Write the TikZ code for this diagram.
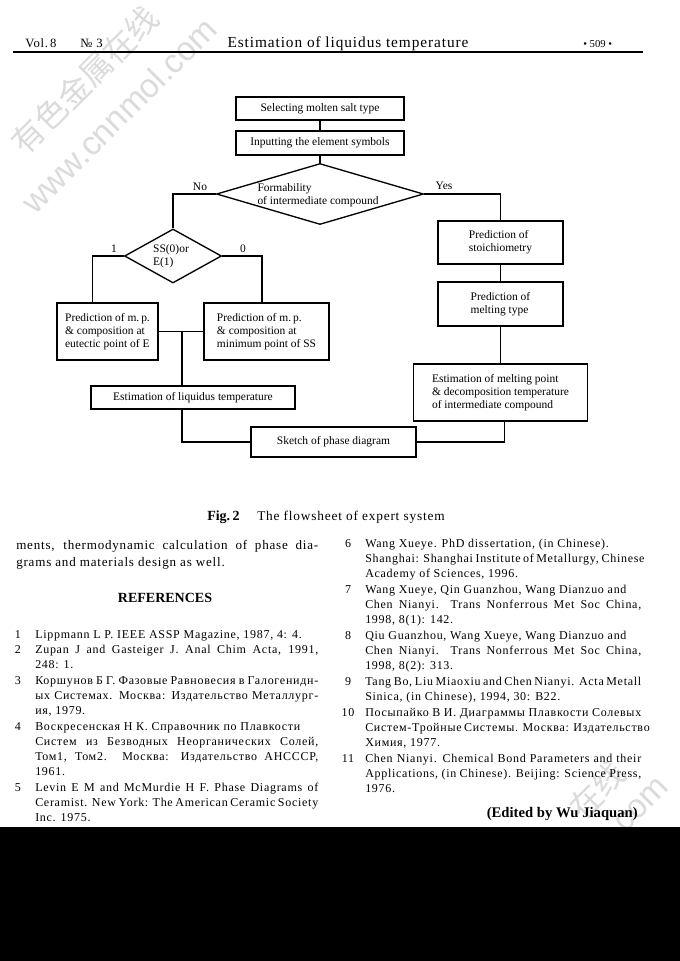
\documentclass[tikz,border=0pt]{standalone}
\usepackage{fontspec}
\setmainfont{Liberation Serif}
\newfontfamily\tracked[LetterSpace=6]{Liberation Serif}
\newfontfamily\marksans{Liberation Sans}
\newfontfamily\markcjk{Noto Sans CJK SC}
\usetikzlibrary{shapes.geometric}
\newcommand\flowfont{\fontsize{8.6}{9.8}\selectfont}
\newcommand\reffont{\tracked\fontsize{9}{11}\selectfont}
\newcommand\bodyfont{\tracked\fontsize{9.8}{12}\selectfont}
\newcommand\fullL[1]{\makebox[212.25pt][s]{#1}}
\newcommand\fullR[1]{\makebox[207pt][s]{#1}}
\newcommand\fullB[1]{\makebox[226.5pt][s]{#1}}
\begin{document}
\begin{tikzpicture}[x=0.75pt,y=-0.75pt,
  box/.style={draw,line width=1pt,inner sep=0pt,align=left,font=\flowfont},
  decide/.style={draw,diamond,line width=1pt,inner sep=0pt},
  flowtxt/.style={inner sep=0pt,align=left,font=\flowfont},
  lab/.style={inner sep=1pt,font=\flowfont},
  link/.style={line width=0.8pt},
  txt/.style={anchor=base west,inner sep=0pt,font=\reffont},
  num/.style={anchor=base,inner sep=0pt,font=\reffont},
  watermark/.style={inner sep=0pt,rotate=45,text=markgray}]
\definecolor{markgray}{gray}{0.86}
\useasboundingbox (0,0) rectangle (680,961);
\fill[white] (0,0) rectangle (680,961);
% watermark
\node[watermark,font=\markcjk\fontsize{24}{24}\selectfont] (wm1) at (85,80) {有色金属在线};
\node[watermark,font=\marksans\fontsize{25}{25}\selectfont] (wm2) at (119,115) {www.cnnmol.com};
\node[watermark,font=\markcjk\fontsize{24}{24}\selectfont] (wm3) at (597,790) {在线};
\node[watermark,font=\marksans\fontsize{25}{25}\selectfont] (wm4) at (642,805) {com};
% running head
\node[anchor=base west,inner sep=0pt,font=\tracked\fontsize{9.5}{11}\selectfont] (vol) at (25,47) {Vol.\,8};
\node[anchor=base west,inner sep=0pt,font=\tracked\fontsize{9.5}{11}\selectfont] (issue) at (80,47) {№ 3};
\node[anchor=base,inner sep=0pt,font=\tracked\fontsize{11.5}{13}\selectfont] (head) at (348,47) {Estimation of liquidus temperature};
\node[anchor=base west,inner sep=0pt,font=\fontsize{8}{9}\selectfont] (page) at (583,47) {•\ 509\ •};
\draw[line width=1.1pt] (13,52) -- (643,52);
% flowsheet
\node[box,minimum width=126pt,minimum height=17.25pt] (sel) at (320,108.5) {Selecting molten salt type};
\node[box,minimum width=126pt,minimum height=18pt] (inp) at (320,143) {Inputting the element symbols};
\node[decide,minimum width=155.25pt,minimum height=45.75pt] (form) at (320,194) {};
\node[flowtxt] (formtxt) at (318,195) {Formability\\of intermediate compound};
\node[decide,minimum width=72.75pt,minimum height=40.5pt] (ss) at (173,256) {};
\node[flowtxt] (sstxt) at (171,256) {SS(0)or\\E(1)};
\node[box,minimum width=75.75pt,minimum height=42.75pt] (boxE) at (107.5,331.5) {Prediction of m.\,p.\\\& composition at\\eutectic point of E};
\node[box,minimum width=93.75pt,minimum height=42.75pt] (boxSS) at (266.5,331.5) {Prediction of m.\,p.\\\& composition at\\minimum point of SS};
\node[box,minimum width=153pt,minimum height=17.25pt] (liq) at (193,397.5) {Estimation of liquidus temperature};
\node[box,minimum width=123.75pt,minimum height=22.5pt] (sketch) at (333.5,442) {Sketch of phase diagram};
\node[box,minimum width=93.75pt,minimum height=32.25pt] (stoich) at (500.5,242.5) {Prediction of\\stoichiometry};
\node[box,minimum width=93.75pt,minimum height=33pt] (melt) at (500.5,304) {Prediction of\\melting type};
\node[box,minimum width=130.5pt,minimum height=42.75pt] (est) at (500.5,392.5) {Estimation of melting point\\\& decomposition temperature\\of intermediate compound};
\node[lab] (no) at (200,187) {No};
\node[lab] (yes) at (444,186) {Yes};
\node[lab] (one) at (114,249) {1};
\node[lab] (zero) at (243,249) {0};
\draw[link] (sel) -- (inp);
\draw[link] (inp) -- (form);
\draw[link] (form.west) -| (ss.north);
\draw[link] (form.east) -| (stoich.north);
\draw[link] (stoich) -- (melt);
\draw[link] (melt) -- (est);
\draw[link] (ss.west) -| ([xshift=-11.6pt]boxE.north);
\draw[link] (ss.east) -| ([xshift=-3.4pt]boxSS.north);
\draw[link] (boxE.east) -- (boxSS.west);
\coordinate (tee) at (182,331.5);
\draw[link] (tee) -- (tee |- liq.north);
\draw[link] (tee |- liq.south) |- (sketch.west);
\draw[link] ([xshift=3pt]est.south) |- (sketch.east);
% caption
\node[anchor=base west,inner sep=0pt,font=\fontsize{10.5}{12}\selectfont\bfseries] (figno) at (207,520) {Fig.\,2};
\node[anchor=base west,inner sep=0pt,font=\tracked\fontsize{10}{12}\selectfont] (figcap) at (257,520) {The flowsheet of expert system};
% left column
\node[txt,font=\bodyfont] (b1) at (16,549) {\fullB{ments, thermodynamic calculation of phase dia-}};
\node[txt,font=\bodyfont] (b2) at (16,566) {grams and materials design as well.};
\node[anchor=base,inner sep=0pt,font=\fontsize{10.5}{12}\selectfont\bfseries] (refs) at (165,602) {REFERENCES};
\node[num] (n1) at (18,638) {1};
\node[txt] (r1a) at (35,638) {Lippmann L P. IEEE ASSP Magazine, 1987, 4: 4.};
\node[num] (n2) at (18,653) {2};
\node[txt] (r2a) at (35,653) {\fullL{Zupan J and Gasteiger J. Anal Chim Acta, 1991,}};
\node[txt] (r2b) at (35,668) {248: 1.};
\node[num] (n3) at (18,684) {3};
\node[txt] (r3a) at (35,684) {\fullL{Коршунов Б Г. Фазовые Равновесия в Галогенидн-}};
\node[txt] (r3b) at (35,699) {\fullL{ых Системах. Москва: Издательство Металлург-}};
\node[txt] (r3c) at (35,714) {ия, 1979.};
\node[num] (n4) at (18,730) {4};
\node[txt] (r4a) at (35,730) {Воскресенская Н К. Справочник по Плавкости};
\node[txt] (r4b) at (35,745) {\fullL{Систем из Безводных Неорганических Солей,}};
\node[txt] (r4c) at (35,760) {\fullL{Том1, Том2. Москва: Издательство АНСССР,}};
\node[txt] (r4d) at (35,775) {1961.};
\node[num] (n5) at (18,791) {5};
\node[txt] (r5a) at (35,791) {\fullL{Levin E M and McMurdie H F. Phase Diagrams of}};
\node[txt] (r5b) at (35,806) {\fullL{Ceramist. New York: The American Ceramic Society}};
\node[txt] (r5c) at (35,821) {Inc. 1975.};
% right column
\node[num] (n6) at (348,547) {6};
\node[txt] (r6a) at (365,547) {Wang Xueye. PhD dissertation, (in Chinese).};
\node[txt] (r6b) at (365,562) {\fullR{Shanghai: Shanghai Institute of Metallurgy, Chinese}};
\node[txt] (r6c) at (365,577) {Academy of Sciences, 1996.};
\node[num] (n7) at (348,593) {7};
\node[txt] (r7a) at (365,593) {Wang Xueye, Qin Guanzhou, Wang Dianzuo and};
\node[txt] (r7b) at (365,608) {\fullR{Chen Nianyi. Trans Nonferrous Met Soc China,}};
\node[txt] (r7c) at (365,623) {1998, 8(1): 142.};
\node[num] (n8) at (348,639) {8};
\node[txt] (r8a) at (365,639) {Qiu Guanzhou, Wang Xueye, Wang Dianzuo and};
\node[txt] (r8b) at (365,654) {\fullR{Chen Nianyi. Trans Nonferrous Met Soc China,}};
\node[txt] (r8c) at (365,669) {1998, 8(2): 313.};
\node[num] (n9) at (348,685) {9};
\node[txt] (r9a) at (365,685) {\fullR{Tang Bo, Liu Miaoxiu and Chen Nianyi. Acta Metall}};
\node[txt] (r9b) at (365,700) {Sinica, (in Chinese), 1994, 30: B22.};
\node[num] (n10) at (348,716) {10};
\node[txt] (r10a) at (365,716) {\fullR{Посыпайко В И. Диаграммы Плавкости Солевых}};
\node[txt] (r10b) at (365,731) {\fullR{Систем-Тройные Системы. Москва: Издательство}};
\node[txt] (r10c) at (365,746) {Химия, 1977.};
\node[num] (n11) at (348,762) {11};
\node[txt] (r11a) at (365,762) {\fullR{Chen Nianyi. Chemical Bond Parameters and their}};
\node[txt] (r11b) at (365,777) {\fullR{Applications, (in Chinese). Beijing: Science Press,}};
\node[txt] (r11c) at (365,792) {1976.};
\node[anchor=base east,inner sep=0pt,font=\fontsize{11}{13}\selectfont\bfseries] (editor) at (638,817) {(Edited by Wu Jiaquan)};
% black margin of the scan
\fill[black] (0,827) rectangle (680,961);
\end{tikzpicture}
\end{document}
